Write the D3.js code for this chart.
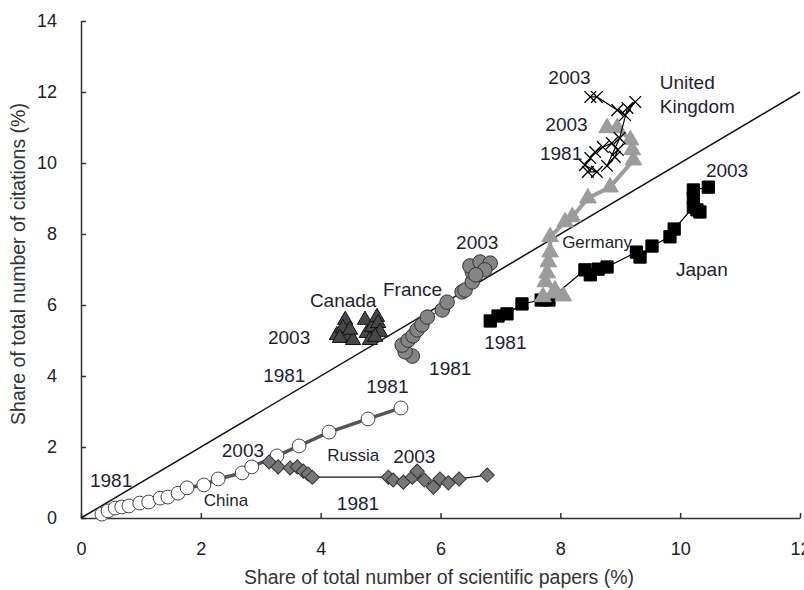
<!DOCTYPE html>
<html>
<head>
<meta charset="utf-8">
<script src="https://cdn.jsdelivr.net/npm/d3@7"></script>
<style>
  body { margin: 0; background: #fff; }
  text { font-family: Arial, "Liberation Sans", sans-serif; }
</style>
</head>
<body>
<svg width="804" height="590"></svg>
<script>
// Share of papers (x) and share of citations (y), in %
const chinaX = [0.35, 0.45, 0.57, 0.68, 0.80, 0.98, 1.13, 1.32, 1.45, 1.62, 1.77, 2.05, 2.29, 2.69, 2.85, 3.27, 3.64, 4.14, 4.79, 5.34];
const chinaY = [0.11, 0.20, 0.28, 0.31, 0.34, 0.42, 0.45, 0.56, 0.59, 0.70, 0.85, 0.93, 1.10, 1.27, 1.44, 1.75, 2.03, 2.42, 2.79, 3.10];

const russiaX = [3.14, 3.29, 3.49, 3.61, 3.71, 3.79, 3.86, 5.13, 5.21, 5.38, 5.53, 5.61, 5.73, 5.88, 5.99, 6.13, 6.31, 6.78];
const russiaY = [1.58, 1.44, 1.41, 1.44, 1.32, 1.24, 1.15, 1.15, 1.07, 1.01, 1.15, 1.32, 1.07, 0.87, 1.10, 0.99, 1.10, 1.21];

const canadaX = [4.27, 4.41, 4.37, 4.46, 4.32, 4.54, 4.49, 4.74, 4.77, 4.82, 4.86, 4.94, 4.96, 4.99, 4.91];
const canadaY = [5.15, 5.58, 5.35, 5.07, 5.07, 5.01, 5.30, 5.58, 5.21, 5.01, 5.38, 5.66, 5.49, 5.24, 5.10];

const franceX = [5.53, 5.41, 5.36, 5.46, 5.54, 5.61, 5.69, 5.78, 6.03, 6.11, 6.36, 6.41, 6.53, 6.53, 6.49, 6.66, 6.83, 6.74, 6.59];
const franceY = [4.56, 4.68, 4.87, 5.01, 5.13, 5.30, 5.44, 5.66, 5.86, 6.08, 6.37, 6.42, 6.65, 6.93, 7.10, 7.21, 7.18, 6.99, 6.85];

const japanX = [6.83, 6.96, 7.11, 7.36, 7.68, 7.81, 8.41, 8.50, 8.63, 8.78, 9.27, 9.33, 9.53, 9.83, 9.90, 10.22, 10.28, 10.33, 10.22, 10.22, 10.47];
const japanY = [5.55, 5.69, 5.75, 6.03, 6.14, 6.14, 6.99, 6.85, 7.01, 7.07, 7.49, 7.35, 7.66, 7.92, 8.14, 8.76, 8.68, 8.62, 9.01, 9.24, 9.32];

const germanyX = [7.71, 8.05, 7.91, 7.75, 7.78, 7.80, 7.83, 7.83, 8.08, 8.20, 8.46, 8.83, 9.22, 9.20, 9.17, 8.95, 8.78];
const germanyY = [6.23, 6.25, 6.42, 6.65, 6.90, 7.21, 7.49, 7.92, 8.34, 8.48, 9.01, 9.32, 10.08, 10.37, 10.65, 10.99, 10.99];

const ukX = [8.46, 8.61, 8.41, 8.50, 8.58, 8.71, 8.86, 8.96, 8.91, 8.78, 8.99, 9.12, 9.25, 9.08, 8.95, 8.61, 8.50];
const ukY = [9.75, 9.75, 9.94, 10.14, 10.31, 10.45, 10.56, 10.37, 10.17, 9.92, 10.70, 11.55, 11.72, 11.35, 11.49, 11.86, 11.86];

const xTicks = [0, 2, 4, 6, 8, 10, 12];
const yTicks = [0, 2, 4, 6, 8, 10, 12, 14];

// Annotation labels: text, anchor (data coords), font size
const labelText = ["2003", "United", "Kingdom", "2003", "1981", "2003", "Germany", "Japan", "2003", "France", "Canada", "2003", "1981", "1981", "1981", "1981", "2003", "Russia", "2003", "1981", "China", "1981"];
const labelX = [7.80, 9.66, 9.66, 7.75, 7.66, 10.43, 8.03, 9.93, 6.26, 5.04, 3.82, 3.12, 3.04, 5.81, 4.76, 6.73, 2.35, 4.11, 5.21, 0.15, 2.05, 4.27];
const labelY = [12.22, 12.08, 11.41, 10.90, 10.09, 9.61, 7.61, 6.82, 7.58, 6.25, 5.94, 4.90, 3.83, 4.03, 3.52, 4.76, 1.72, 1.61, 1.55, 0.87, 0.34, 0.23];
const labelSize = [19, 19, 19, 19, 19, 19, 17, 19, 19, 19, 19, 19, 19, 19, 19, 19, 19, 17, 19, 19, 17, 19];

const svg = d3.select("svg");
const margin = { top: 21, right: 4, bottom: 72, left: 81 };
const height = 590 - margin.top - margin.bottom;

const g = svg.append("g").attr("transform", `translate(${margin.left},${margin.top})`);

const x = d3.scaleLinear().domain([0, 12]).range([0, 719]);
const y = d3.scaleLinear().domain([0, 14]).range([height, 0]);

// axes with inward ticks
const xAxis = g.append("g")
    .attr("transform", `translate(0,${height})`)
    .call(d3.axisBottom(x).tickValues(xTicks).tickSizeInner(-5).tickSizeOuter(0).tickPadding(24));
const yAxis = g.append("g")
    .call(d3.axisLeft(y).tickValues(yTicks).tickSizeInner(-5).tickSizeOuter(0).tickPadding(24));

[xAxis, yAxis].forEach(a => {
    a.select(".domain").attr("stroke", "#333").attr("stroke-width", 1.5);
    a.selectAll(".tick line").attr("stroke", "#333").attr("stroke-width", 1.5);
    a.selectAll(".tick text").attr("font-size", 18).attr("fill", "#222")
        .attr("font-family", "Arial, 'Liberation Sans', sans-serif");
});

// axis titles
svg.append("text")
    .attr("x", 439).attr("y", 584)
    .attr("text-anchor", "middle")
    .attr("font-size", 19.5).attr("fill", "#333")
    .text("Share of total number of scientific papers (%)");
svg.append("text")
    .attr("transform", "translate(25,264) rotate(-90)")
    .attr("text-anchor", "middle")
    .attr("font-size", 19.5).attr("fill", "#333")
    .text("Share of total number of citations (%)");

// y = x reference line
g.append("line")
    .attr("x1", x(0)).attr("y1", y(0))
    .attr("x2", x(12)).attr("y2", y(12))
    .attr("stroke", "#111").attr("stroke-width", 1.5);

const zip = (xs, ys) => xs.map((v, i) => [v, ys[i]]);
const line = d3.line().x(d => x(d[0])).y(d => y(d[1]));

function drawSeries(pts, opt) {
    if (opt.lineWidth) {
        g.append("path")
            .datum(pts)
            .attr("d", line)
            .attr("fill", "none")
            .attr("stroke", opt.lineColor)
            .attr("stroke-width", opt.lineWidth);
    }
    g.selectAll(null)
        .data(pts)
        .enter().append("path")
        .attr("transform", d => `translate(${x(d[0])},${y(d[1])}) rotate(${opt.rotate || 0})`)
        .attr("d", d3.symbol().type(opt.symbol).size(opt.size))
        .attr("fill", opt.fill)
        .attr("stroke", opt.stroke)
        .attr("stroke-width", opt.strokeWidth || 1);
}

drawSeries(zip(chinaX, chinaY), { symbol: d3.symbolCircle, size: 150, fill: "#fff", stroke: "#444", lineColor: "#555", lineWidth: 3.5 });
drawSeries(zip(russiaX, russiaY), { symbol: d3.symbolSquare, size: 100, rotate: 45, fill: "#777", stroke: "#333", lineColor: "#111", lineWidth: 1.2 });
drawSeries(zip(canadaX, canadaY), { symbol: d3.symbolTriangle, size: 100, fill: "#474747", stroke: "#111" });
drawSeries(zip(franceX, franceY), { symbol: d3.symbolCircle, size: 165, fill: "#858585", stroke: "#333", lineColor: "#333", lineWidth: 1 });
drawSeries(zip(japanX, japanY), { symbol: d3.symbolSquare, size: 150, fill: "#000", stroke: "#000", lineColor: "#000", lineWidth: 1.2 });
drawSeries(zip(germanyX, germanyY), { symbol: d3.symbolTriangle, size: 120, fill: "#9c9c9c", stroke: "#9c9c9c", lineColor: "#9c9c9c", lineWidth: 4 });
drawSeries(zip(ukX, ukY), { symbol: d3.symbolX, size: 90, fill: "none", stroke: "#000", strokeWidth: 1.3, lineColor: "#000", lineWidth: 1.2 });

// annotations
g.selectAll(".lbl")
    .data(labelText.map((t, i) => ({ t, x: labelX[i], y: labelY[i], s: labelSize[i] })))
    .enter().append("text")
    .attr("class", "lbl")
    .attr("x", d => x(d.x))
    .attr("y", d => y(d.y))
    .attr("font-size", d => d.s)
    .attr("fill", "#1e1e32")
    .text(d => d.t);
</script>
</body>
</html>
